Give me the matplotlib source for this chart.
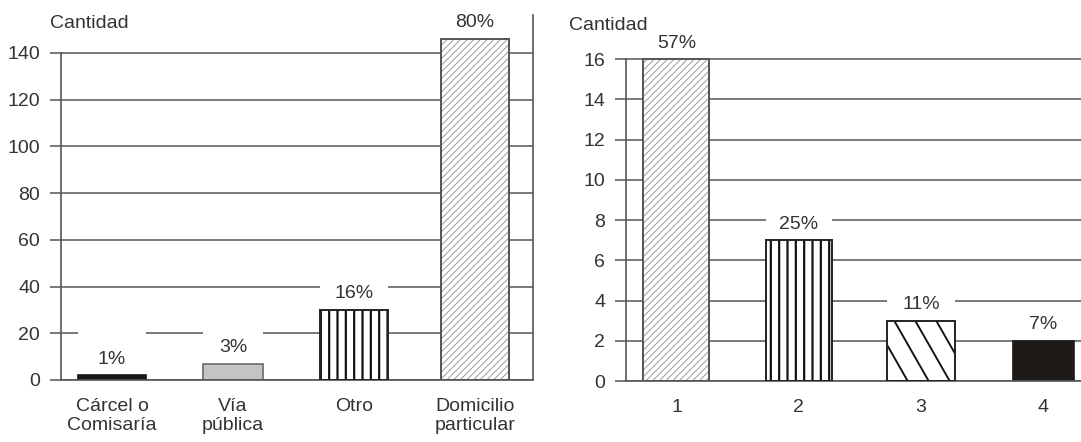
import matplotlib
matplotlib.use("Agg")
import matplotlib.pyplot as plt
from matplotlib.patches import Rectangle

plt.rcParams["font.family"] = ["Liberation Sans", "DejaVu Sans"]
FS = 14

# Lugar de ocurrencia
lugares = ["Cárcel o\nComisaría", "Vía\npública", "Otro", "Domicilio\nparticular"]
cantidad_lugar = [2, 7, 30, 146]
pct_lugar = ["1%", "3%", "16%", "80%"]

# Segundo gráfico: categorías numeradas
grupos = ["1", "2", "3", "4"]
cantidad_grupo = [16, 7, 3, 2]
pct_grupo = ["57%", "25%", "11%", "7%"]

TXT = "#333333"
LINE = "#555555"

W, H = 1081, 442
fig = plt.figure(figsize=(W / 100, H / 100), dpi=100)
fig.patch.set_facecolor("white")

ax1 = fig.add_axes([61 / W, 62 / H, 472 / W, 365 / H])
ax2 = fig.add_axes([626 / W, 61 / H, 455 / W, 366 / H])

ax1.set_xlim(-0.4225, 3.48)
ax1.set_ylim(0, 156.25)
ax2.set_xlim(0.587, 4.31)
ax2.set_ylim(0, 18.19)

# bar appearance: (facecolor, hatch, hatch colour, hatch width, edge colour)
estilo_lugar = [
    ("#1a1a1a", None, None, 0, "#1a1a1a"),
    ("#c4c4c4", None, None, 0, "#6a6a6a"),
    ("white", "||", "#111111", 1.6, "#222222"),
    ("white", "/////", "#9a9a9a", 0.7, "#555555"),
]
ancho_lugar = [0.563, 0.497, 0.555, 0.563]
estilo_grupo = [
    ("white", "/////", "#9a9a9a", 0.7, "#555555"),
    ("white", "||", "#111111", 1.6, "#222222"),
    ("white", "steep", "#111111", 1.9, "#222222"),
    ("#1e1a18", None, None, 0, "#1e1a18"),
]
ancho_grupo = [0.54, 0.54, 0.56, 0.50]


def steep_hatch(ax, bar, color, lw, spacing=21.0, slope=1.75):
    """Diagonal lines running down to the right, clipped to the bar."""
    (x0, y0), (x1, y1) = ax.transData.transform(
        [(bar.get_x(), bar.get_y()),
         (bar.get_x() + bar.get_width(), bar.get_y() + bar.get_height())])
    h = y1 - y0
    inv = ax.transData.inverted()
    start = x0 - h / slope - spacing
    k = 0
    while start + k * spacing < x1 + spacing:
        xa = start + k * spacing
        pts = inv.transform([(xa, y1), (xa + h / slope, y0)])
        ln, = ax.plot(pts[:, 0], pts[:, 1], color=color, lw=lw * 0.72,
                      zorder=2.5, solid_capstyle="butt")
        ln.set_clip_path(bar)
        k += 1


def draw(ax, xs, vals, widths, estilos, pcts, pads, top_tick):
    for x, v, w, (fc, hatch, hc, hlw, ec) in zip(xs, vals, widths, estilos):
        if hatch == "steep":
            b = ax.bar([x], [v], width=w, color=fc, linewidth=0, zorder=2)
            steep_hatch(ax, b[0], hc, hlw)
            ax.bar([x], [v], width=w, fill=False, edgecolor=ec,
                   linewidth=1.4, zorder=3)
        elif hatch:
            with plt.rc_context({"hatch.linewidth": hlw, "hatch.color": hc}):
                b = ax.bar([x], [v], width=w, color=fc, edgecolor=hc,
                           hatch=hatch, linewidth=0, zorder=2)
                for p in b:
                    if hasattr(p, "set_hatch_linewidth"):
                        p.set_hatch_linewidth(hlw)
            ax.bar([x], [v], width=w, fill=False, edgecolor=ec,
                   linewidth=1.4, zorder=3)
        else:
            ax.bar([x], [v], width=w, color=fc, edgecolor=ec,
                   linewidth=1.2, zorder=2)

    # percentage labels with a white backing the width of the bar
    inv = ax.transData.inverted()
    for x, v, w, t, pad in zip(xs, vals, widths, pcts, pads):
        dx, dy = ax.transData.transform((x, v))
        cy = dy + 16
        yc = inv.transform((dx, cy))[1]
        ylo = max(v, inv.transform((dx, cy - 10))[1])
        yhi = inv.transform((dx, cy + pad))[1]
        ax.add_patch(Rectangle((x - w / 2, ylo), w, yhi - ylo,
                               facecolor="white", edgecolor="none", zorder=1.2))
        ax.text(x, yc, t, ha="center", va="center", fontsize=FS,
                color=TXT, zorder=4, clip_on=False)

    ax.set_axisbelow(True)
    ax.yaxis.grid(True, color=LINE, linewidth=1.1)
    ax.xaxis.grid(False)
    ax.spines["top"].set_visible(False)
    for s in ax.spines.values():
        s.set_color(LINE)
        s.set_linewidth(1.2)
    ax.spines["left"].set_bounds(0, top_tick)
    ax.tick_params(axis="y", length=8, width=1.1, color=LINE,
                   labelsize=FS, labelcolor=TXT, pad=7)
    ax.tick_params(axis="x", length=0, labelsize=FS, labelcolor=TXT, pad=13)


x1 = list(range(len(lugares)))
draw(ax1, x1, cantidad_lugar, ancho_lugar, estilo_lugar, pct_lugar,
     [28, 18, 14, 12], 140)
ax1.set_yticks(range(0, 141, 20))
ax1.set_xticks(x1)
ax1.set_xticklabels(lugares, linespacing=1.15)

x2 = [int(g) for g in grupos]
draw(ax2, x2, cantidad_grupo, ancho_grupo, estilo_grupo, pct_grupo,
     [12, 14, 12, 12], 16)
ax2.spines["right"].set_visible(False)
ax2.set_yticks(range(0, 17, 2))
ax2.set_xticks(x2)
ax2.set_xticklabels(grupos)

fig.text(89 / W, 1 - 23 / H, "Cantidad", ha="center", va="center",
         fontsize=FS, color=TXT)
fig.text(608 / W, 1 - 25 / H, "Cantidad", ha="center", va="center",
         fontsize=FS, color=TXT)

fig.savefig("out.png", dpi=100, facecolor="white")
